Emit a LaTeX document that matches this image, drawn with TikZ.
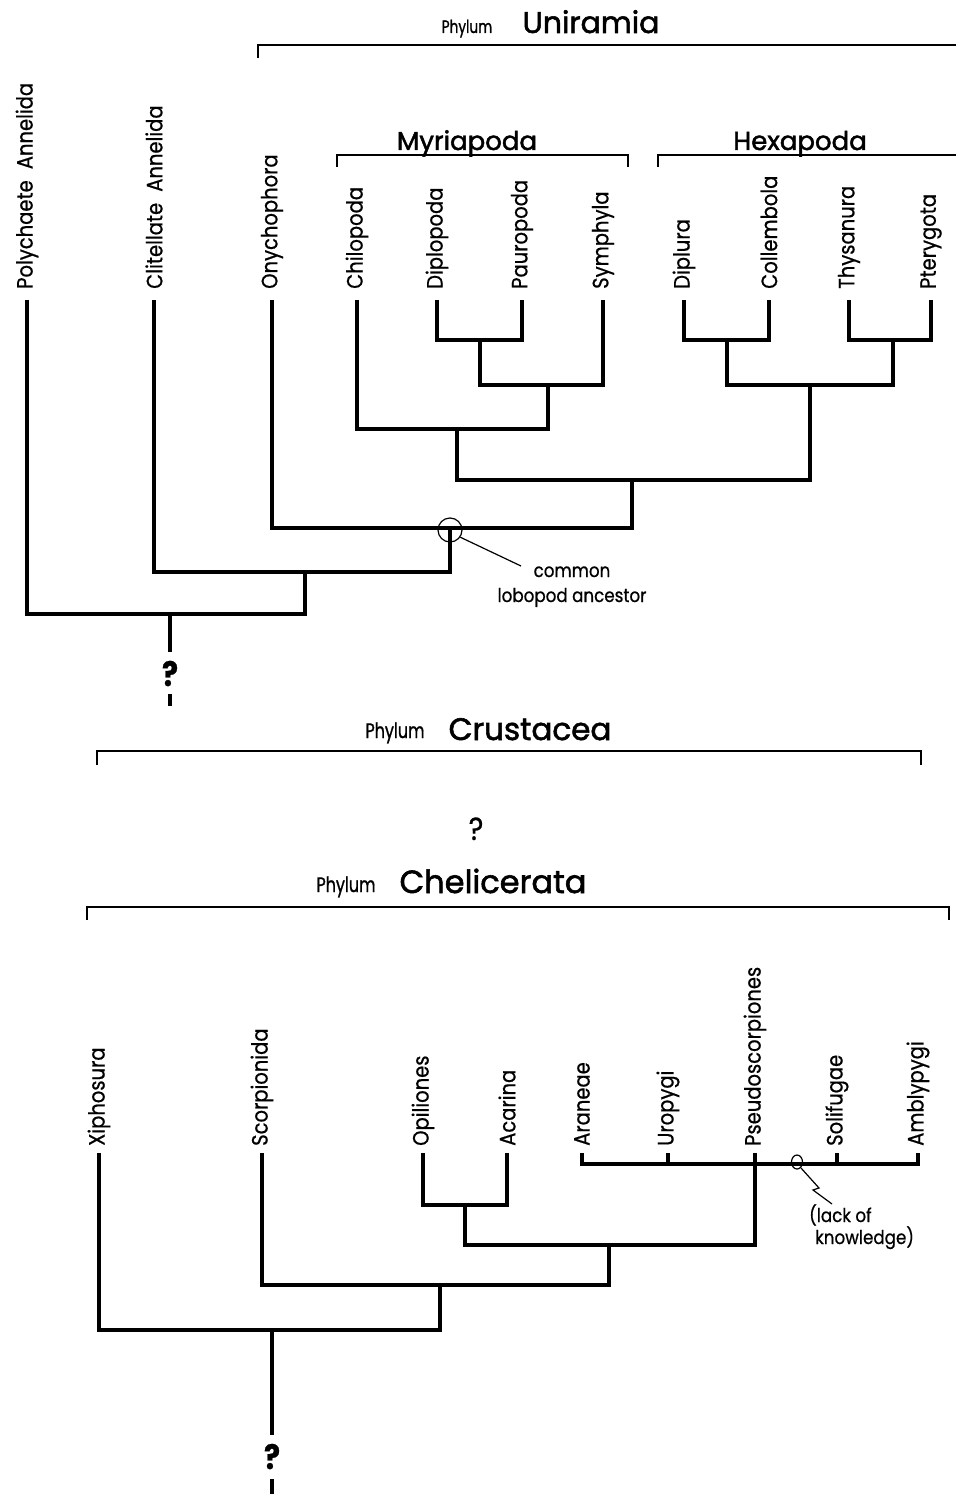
\documentclass[tikz,border=0pt]{standalone}
\usepackage{fontspec}
\setmainfont{Poppins}[FakeStretch=0.88,FakeBold=0.7]
\newfontfamily\headfont{Poppins}[FakeBold=1.8]
\newfontfamily\phylfont{Poppins}[FakeStretch=0.76,FakeBold=1.0]
\begin{document}
\begin{tikzpicture}[x=1pt,y=-1pt,
  br/.style={line width=3.2pt,line join=miter},
  brk/.style={line width=1.6pt},
  fine/.style={line width=1.2pt},
  leaf/.style={rotate=90,anchor=west,inner sep=0pt,font=\fontsize{22.2}{22.2}\selectfont},
  phyl/.style={anchor=base,inner sep=0pt,font=\phylfont\fontsize{21}{21}\selectfont},
  phylname/.style={anchor=base,inner sep=0pt,font=\headfont\fontsize{31}{31}\selectfont},
  grp/.style={anchor=base,inner sep=0pt,font=\headfont\fontsize{26}{26}\selectfont},
  qbold/.style={anchor=base,inner sep=0pt,font=\bfseries\fontsize{34}{34}\selectfont},
  note/.style={inner sep=0pt,font=\fontsize{19}{19}\selectfont}]
\fill[white] (0,0) rectangle (956,1495);
\useasboundingbox (0,0) rectangle (956,1495);

% ---------- headings and brackets ----------
\node[phyl,font=\phylfont\fontsize{18}{18}\selectfont] (phU) at (467,33) {Phylum};
\node[phylname,font=\headfont\fontsize{30}{30}\selectfont] (nU) at (591,33) {Uniramia};
\coordinate (uA) at (258,58); \coordinate (uB) at (258,45); \coordinate (uC) at (956,45);
\draw[brk] (uA) -- (uB) -- (uC);

\node[grp] (nMy) at (467,150) {Myriapoda};
\coordinate (mA) at (337,167); \coordinate (mB) at (628,167);
\draw[brk] (mA) -- (337,155) -- (628,155) -- (mB);
\node[grp] (nHe) at (800,150) {Hexapoda};
\coordinate (hA) at (658,167); \coordinate (hB) at (956,155);
\draw[brk] (hA) -- (658,155) -- (hB);

\node[phyl] (phCr) at (395,738) {Phylum};
\node[phylname] (nCr) at (530,740) {Crustacea};
\coordinate (cA) at (97,765); \coordinate (cB) at (921,765);
\draw[brk] (cA) -- (97,751) -- (921,751) -- (cB);

\node[anchor=base,inner sep=0pt,font=\fontsize{32}{32}\selectfont] (qmid) at (476,840) {?};

\node[phyl] (phCh) at (346,892) {Phylum};
\node[phylname,font=\headfont\fontsize{32}{32}\selectfont] (nCh) at (493,893) {Chelicerata};
\coordinate (chA) at (87,920); \coordinate (chB) at (949,920);
\draw[brk] (chA) -- (87,907) -- (949,907) -- (chB);

% ---------- upper tree: leaves ----------
\foreach \nm/\xx/\txt in {Pol/27/{Polychaete\hspace{0.5em}Annelida},
  Cli/154/{Clitellate\hspace{0.5em}Annelida},
  Ony/272/Onychophora, Chi/357/Chilopoda, Dip/437/Diplopoda,
  Pau/522/Pauropoda, Sym/603/Symphyla, Dipl/684/Diplura,
  Col/769/Collembola, Thy/849/Thysanura, Pte/931/Pterygota}{
  \node[leaf] (l\nm) at (\xx,289) {\txt};
  \coordinate (t\nm) at (\xx,300);
}
% junctions
\coordinate (j1) at (480,340);
\coordinate (j2) at (548,385);
\coordinate (j3) at (457,429);
\coordinate (j4) at (727,340);
\coordinate (j5) at (893,340);
\coordinate (j6) at (810,385);
\coordinate (j7) at (632,480);
\coordinate (j8) at (450,528);
\coordinate (j9) at (305,572);
\coordinate (j10) at (170,614);
\coordinate (rootA) at (170,652);

\draw[br] (tDip) -- (tDip |- j1) -- (tPau |- j1) -- (tPau);
\draw[br] (j1) -- (j1 |- j2) -- (tSym |- j2) -- (tSym);
\draw[br] (tChi) -- (tChi |- j3) -- (j2 |- j3) -- (j2);
\draw[br] (tDipl) -- (tDipl |- j4) -- (tCol |- j4) -- (tCol);
\draw[br] (tThy) -- (tThy |- j5) -- (tPte |- j5) -- (tPte);
\draw[br] (j4) -- (j4 |- j6) -- (j5 |- j6) -- (j5);
\draw[br] (j3) -- (j3 |- j7) -- (j6 |- j7) -- (j6);
\draw[br] (tOny) -- (tOny |- j8) -- (j7 |- j8) -- (j7);
\draw[br] (tCli) -- (tCli |- j9) -- (j8 |- j9) -- (j8);
\draw[br] (tPol) -- (tPol |- j10) -- (j9 |- j10) -- (j9);
\draw[br] (j10) -- (rootA);
\node[qbold] (q1) at (170,686) {?};
\coordinate (d1a) at (170,694); \coordinate (d1b) at (170,706);
\draw[br] (d1a) -- (d1b);

% common lobopod ancestor
\node[circle,draw,fine,minimum size=24pt,inner sep=0pt] (anc) at (450,530) {};
\coordinate (lead) at (521,566);
\draw[fine] (anc.-35) -- (lead);
\node[note,anchor=base] (anc1) at (572,577) {common};
\node[note,anchor=base] (anc2) at (572,602) {lobopod ancestor};

% ---------- lower tree ----------
\foreach \nm/\xx/\txt in {Xip/99/Xiphosura, Sco/262/Scorpionida,
  Opi/423/Opiliones, Aca/507/Acarina, Ara/582/Araneae, Uro/668/Uropygi,
  Pse/755/Pseudoscorpiones, Sol/837/Solifugae, Amb/918/Amblypygi}{
  \node[leaf] (l\nm) at (\xx,1146) {\txt};
  \coordinate (t\nm) at (\xx,1153);
}
\coordinate (gbar) at (700,1164);
\coordinate (k1) at (465,1205);
\coordinate (k2) at (609,1245);
\coordinate (k3) at (440,1285);
\coordinate (k4) at (272,1330);
\coordinate (rootB) at (272,1435);

\draw[br] (tAra) -- (tAra |- gbar) -- (tAmb |- gbar) -- (tAmb);
\draw[br] (tUro) -- (tUro |- gbar);
\draw[br] (tSol) -- (tSol |- gbar);
\draw[br] (tOpi) -- (tOpi |- k1) -- (tAca |- k1) -- (tAca);
\draw[br] (k1) -- (k1 |- k2) -- (tPse |- k2) -- (tPse);
\draw[br] (tSco) -- (tSco |- k3) -- (k2 |- k3) -- (k2);
\draw[br] (tXip) -- (tXip |- k4) -- (k3 |- k4) -- (k3);
\draw[br] (k4) -- (rootB);
\node[qbold] (q2) at (272,1469) {?};
\coordinate (d2a) at (272,1479); \coordinate (d2b) at (272,1494);
\draw[br] (d2a) -- (d2b);

% lack of knowledge
\draw[fine] (797,1162) ellipse [x radius=5.5pt, y radius=7pt];
\coordinate (zz0) at (801,1168);
\coordinate (zz1) at (819,1188);
\coordinate (zz2) at (813,1190);
\coordinate (zz3) at (832,1204);
\draw[fine] (zz0) -- (zz1) -- (zz2) -- (zz3);
\node[note,anchor=base west] (lk1) at (809,1222) {(lack of};
\node[note,anchor=base west] (lk2) at (815,1244) {knowledge)};
\end{tikzpicture}
\end{document}
